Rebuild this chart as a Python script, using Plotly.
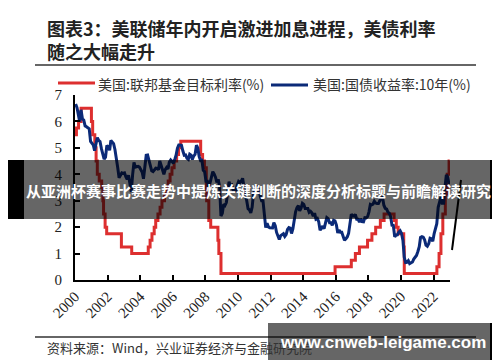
import plotly.graph_objects as go

# ---------------- data ----------------
fed_dates = ["2000-01-01", "2000-02-02", "2000-03-21", "2000-05-16", "2001-01-03", "2001-01-31",
             "2001-03-20", "2001-04-18", "2001-05-15", "2001-06-27", "2001-08-21", "2001-09-17",
             "2001-10-02", "2001-11-06", "2001-12-11", "2002-11-06", "2003-06-25", "2004-06-30",
             "2004-08-10", "2004-09-21", "2004-11-10", "2004-12-14", "2005-02-02", "2005-03-22",
             "2005-05-03", "2005-06-30", "2005-08-09", "2005-09-20", "2005-11-01", "2005-12-13",
             "2006-01-31", "2006-03-28", "2006-05-10", "2006-06-29", "2007-09-18", "2007-10-31",
             "2007-12-11", "2008-01-22", "2008-01-30", "2008-03-18", "2008-04-30", "2008-10-08",
             "2008-10-29", "2008-12-16", "2015-12-17", "2016-12-15", "2017-03-16", "2017-06-15",
             "2017-12-14", "2018-03-22", "2018-06-14", "2018-09-27", "2018-12-20", "2019-08-01",
             "2019-09-19", "2019-10-31", "2020-03-04", "2020-03-16", "2022-03-17", "2022-05-05",
             "2022-06-16", "2022-07-28", "2022-09-22", "2022-11-03", "2022-12-15", "2022-12-30"]
fed_rate = [5.50, 5.75, 6.00, 6.50, 6.00, 5.50,
            5.00, 4.50, 4.00, 3.75, 3.50, 3.00,
            2.50, 2.00, 1.75, 1.25, 1.00, 1.25,
            1.50, 1.75, 2.00, 2.25, 2.50, 2.75,
            3.00, 3.25, 3.50, 3.75, 4.00, 4.25,
            4.50, 4.75, 5.00, 5.25, 4.75, 4.50,
            4.25, 3.50, 3.00, 2.25, 2.00, 1.50,
            1.00, 0.25, 0.50, 0.75, 1.00, 1.25,
            1.50, 1.75, 2.00, 2.25, 2.50, 2.25,
            2.00, 1.75, 1.25, 0.25, 0.50, 1.00,
            1.75, 2.50, 3.25, 4.00, 4.50, 4.50]

ust10_by_year = {
    2000: [6.66, 6.52, 6.26, 5.99, 6.44, 6.10, 6.05, 5.83, 5.80, 5.74, 5.72, 5.24],
    2001: [5.16, 5.10, 4.89, 5.14, 5.39, 5.28, 5.24, 4.97, 4.73, 4.57, 4.65, 5.09],
    2002: [5.04, 4.91, 5.28, 5.21, 5.16, 4.93, 4.65, 4.26, 3.87, 3.94, 4.05, 4.03],
    2003: [4.05, 3.90, 3.81, 3.96, 3.57, 3.33, 3.98, 4.45, 4.27, 4.29, 4.30, 4.27],
    2004: [4.15, 4.08, 3.83, 4.35, 4.72, 4.73, 4.50, 4.28, 4.13, 4.10, 4.19, 4.23],
    2005: [4.22, 4.17, 4.50, 4.34, 4.14, 4.00, 4.18, 4.26, 4.20, 4.46, 4.54, 4.47],
    2006: [4.42, 4.57, 4.72, 4.99, 5.11, 5.11, 5.09, 4.88, 4.72, 4.73, 4.60, 4.56],
    2007: [4.76, 4.72, 4.56, 4.69, 4.75, 5.10, 5.00, 4.67, 4.52, 4.53, 4.15, 4.10],
    2008: [3.74, 3.74, 3.51, 3.68, 3.88, 4.10, 4.01, 3.89, 3.69, 3.81, 3.53, 2.42],
    2009: [2.52, 2.87, 2.82, 2.93, 3.29, 3.72, 3.56, 3.59, 3.40, 3.39, 3.40, 3.59],
    2010: [3.73, 3.69, 3.73, 3.85, 3.42, 3.20, 3.01, 2.70, 2.65, 2.54, 2.76, 3.29],
    2011: [3.39, 3.58, 3.41, 3.46, 3.17, 3.00, 3.00, 2.30, 1.98, 2.15, 2.01, 1.98],
    2012: [1.97, 1.97, 2.17, 2.05, 1.80, 1.62, 1.53, 1.68, 1.72, 1.75, 1.65, 1.72],
    2013: [1.91, 1.98, 1.96, 1.76, 1.93, 2.30, 2.58, 2.74, 2.81, 2.62, 2.72, 2.90],
    2014: [2.86, 2.71, 2.72, 2.71, 2.56, 2.60, 2.54, 2.42, 2.53, 2.30, 2.33, 2.21],
    2015: [1.88, 1.98, 2.04, 1.94, 2.20, 2.36, 2.32, 2.17, 2.17, 2.07, 2.26, 2.24],
    2016: [2.09, 1.78, 1.89, 1.81, 1.81, 1.64, 1.50, 1.56, 1.63, 1.76, 2.14, 2.49],
    2017: [2.43, 2.42, 2.48, 2.30, 2.30, 2.19, 2.32, 2.21, 2.20, 2.36, 2.35, 2.40],
    2018: [2.58, 2.86, 2.84, 2.87, 2.98, 2.91, 2.89, 2.89, 3.00, 3.15, 3.12, 2.83],
    2019: [2.71, 2.68, 2.57, 2.53, 2.40, 2.07, 2.06, 1.63, 1.70, 1.71, 1.81, 1.86],
    2020: [1.76, 1.50, 0.87, 0.66, 0.67, 0.73, 0.62, 0.65, 0.68, 0.79, 0.87, 0.93],
    2021: [1.08, 1.26, 1.61, 1.64, 1.62, 1.52, 1.32, 1.28, 1.37, 1.58, 1.56, 1.47],
    2022: [1.76, 1.93, 2.13, 2.75, 2.90, 3.14, 2.90, 2.90, 3.52, 3.98, 3.89, 3.62],
}
ust_dates = []
ust_yield = []
for yr, vals in ust10_by_year.items():
    for m, v in enumerate(vals):
        ust_dates.append(f"{yr}-{m + 1:02d}-15")
        ust_yield.append(v)

x_tick_vals = ["2000-01-01", "2002-01-01", "2004-01-01", "2006-01-01", "2008-01-01", "2010-01-01",
               "2012-01-01", "2014-01-01", "2016-01-01", "2018-01-01", "2020-01-01", "2022-01-01"]
x_tick_text = ["2000", "2002", "2004", "2006", "2008", "2010", "2012", "2014", "2016", "2018", "2020", "2022"]
y_ticks = [0, 1, 2, 3, 4, 5, 6, 7]

name_fed = "美国:联邦基金目标利率(%)"
name_ust = "美国:国债收益率:10年(%)"
title_l1 = "图表3：美联储年内开启激进加息进程，美债利率"
title_l2 = "随之大幅走升"
source_txt = "资料来源：Wind，兴业证券经济与金融研究院"
banner_txt = "从亚洲杯赛事比赛走势中提炼关键判断的深度分析标题与前瞻解读研究"
watermark_txt = "www.cnweb-leigame.com"

# ---------------- layout helpers ----------------
W, H = 500, 362
PL, PR, PT, PB = 67, 442, 87, 272  # plot area in pixels


def px(x):
    return (x - PL) / (PR - PL)


def py(y):
    return (PB - y) / (PB - PT)


RED = "#dd2f2f"
BLUE = "#0b2a78"
SERIF = "Liberation Serif, Times New Roman, serif"
CJK = "Noto Sans CJK SC"

fig = go.Figure()
fig.add_trace(go.Scatter(x=fed_dates, y=fed_rate, name=name_fed, mode="lines",
                         line=dict(color=RED, width=3, shape="hv")))
fig.add_trace(go.Scatter(x=ust_dates, y=ust_yield, name=name_ust, mode="lines",
                         line=dict(color=BLUE, width=3)))

fig.update_layout(
    width=W, height=H,
    margin=dict(l=PL, r=W - PR, t=PT, b=H - PB, pad=0),
    paper_bgcolor="white", plot_bgcolor="white",
    showlegend=False,
    xaxis=dict(type="date", range=["2000-01-01", "2023-01-05"],
               tickvals=x_tick_vals, ticktext=x_tick_text, tickangle=-45,
               ticks="inside", ticklen=5, tickwidth=1.5, tickcolor="black",
               showline=True, linecolor="black", linewidth=2, showgrid=False, zeroline=False,
               tickfont=dict(family=SERIF, size=15, color="#222")),
    yaxis=dict(range=[0, 7], tickvals=y_ticks, ticks="inside", ticklen=5, tickwidth=1.5,
               tickcolor="black", showline=True, linecolor="black", linewidth=2,
               showgrid=False, zeroline=False, ticklabelstandoff=8,
               tickfont=dict(family=SERIF, size=15, color="#222")),
)

shapes = []
annos = []

# title (two lines in one text block)
annos.append(dict(x=px(37), y=py(31), xref="paper", yref="paper", xanchor="left", yanchor="middle",
                  align="left", text="<b>" + title_l1 + "<br>" + title_l2 + "</b>", showarrow=False,
                  font=dict(family=CJK, size=18, color="#222")))
shapes.append(dict(type="line", xref="paper", yref="paper", x0=px(27), x1=px(468), y0=py(57), y1=py(57),
                   line=dict(color="#333", width=1.5)))

# legend
shapes.append(dict(type="line", xref="paper", yref="paper", x0=px(50), x1=px(87), y0=py(75), y1=py(75),
                   line=dict(color=RED, width=3)))
annos.append(dict(x=px(88), y=py(76), xref="paper", yref="paper", xanchor="left", yanchor="middle",
                  text=name_fed, showarrow=False, font=dict(family=CJK, size=14, color="#333")))
shapes.append(dict(type="line", xref="paper", yref="paper", x0=px(263), x1=px(300), y0=py(77), y1=py(77),
                   line=dict(color=BLUE, width=3)))
annos.append(dict(x=px(303), y=py(76), xref="paper", yref="paper", xanchor="left", yanchor="middle",
                  text=name_ust, showarrow=False, font=dict(family=CJK, size=14, color="#333")))

# black stroke at the end of the series
shapes.append(dict(type="line", xref="paper", yref="paper", x0=px(444), x1=px(453), y0=py(242), y1=py(172),
                   line=dict(color="black", width=2)))

# source
shapes.append(dict(type="line", xref="paper", yref="paper", x0=px(27), x1=px(468), y0=py(329), y1=py(329),
                   line=dict(color="#333", width=1.5)))
annos.append(dict(x=px(37), y=py(339), xref="paper", yref="paper", xanchor="left", yanchor="middle",
                  text=source_txt, showarrow=False, font=dict(family=CJK, size=13, color="#333")))

# overlay banner
shapes.append(dict(type="rect", xref="paper", yref="paper", x0=px(16), x1=px(482), y0=py(211), y1=py(152),
                   fillcolor="rgba(0,0,0,0.6)", line=dict(width=0), layer="above"))
shapes.append(dict(type="rect", xref="paper", yref="paper", x0=px(0), x1=px(16), y0=py(211), y1=py(152),
                   fillcolor="black", line=dict(width=0), layer="above"))
shapes.append(dict(type="rect", xref="paper", yref="paper", x0=px(482), x1=px(500), y0=py(211), y1=py(152),
                   fillcolor="black", line=dict(width=0), layer="above"))
annos.append(dict(x=px(250), y=py(182), xref="paper", yref="paper", xanchor="center", yanchor="middle",
                  text="<b>" + banner_txt + "</b>", showarrow=False,
                  font=dict(family=CJK, size=15, color="white")))

# watermark
shapes.append(dict(type="rect", xref="paper", yref="paper", x0=px(260), x1=px(482), y0=py(352), y1=py(315),
                   fillcolor="rgba(0,0,0,0.6)", line=dict(width=0), layer="above"))
shapes.append(dict(type="rect", xref="paper", yref="paper", x0=px(482), x1=px(490), y0=py(352), y1=py(315),
                   fillcolor="black", line=dict(width=0), layer="above"))
annos.append(dict(x=px(375), y=py(334), xref="paper", yref="paper", xanchor="center", yanchor="middle",
                  text="<b>" + watermark_txt + "</b>", showarrow=False,
                  font=dict(family="Liberation Sans, Arial, sans-serif", size=17, color="white")))

fig.update_layout(shapes=shapes, annotations=annos)
fig.write_html("out.html")
